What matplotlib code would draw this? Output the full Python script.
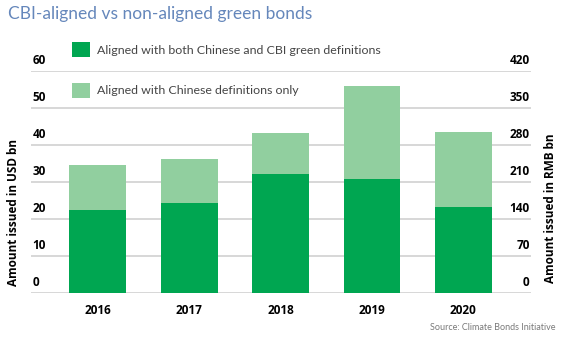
import matplotlib
matplotlib.use("Agg")
import matplotlib.pyplot as plt

# data (USD bn)
years = ["2016", "2017", "2018", "2019", "2020"]
both_aligned = [22.5, 24.5, 32.3, 30.9, 23.3]
chinese_only = [12.3, 11.9, 11.0, 25.1, 20.2]
usd_ticks = [0, 10, 20, 30, 40, 50, 60]
rmb_ticks = [0, 70, 140, 210, 280, 350, 420]

dark_green = "#00a651"
light_green = "#91cf9f"
bold_font = "Open Sans"
light_font = "Lato"

W, H = 566, 343
fig = plt.figure(figsize=(W / 100, H / 100), dpi=100)
ax = fig.add_axes([31 / W, 1 - 293.3 / H, 500 / W, 222 / H])

x = list(range(len(years)))
b1 = ax.bar(x, both_aligned, width=0.62, color=dark_green, linewidth=0, zorder=3)
b2 = ax.bar(x, chinese_only, bottom=both_aligned, width=0.62, color=light_green,
            linewidth=0, zorder=3)

ax.set_xlim(-0.731, 4.74)
ax.set_ylim(0, 60)
ax.set_yticks(usd_ticks)
ax.yaxis.grid(True, color="#d4d4d4", linewidth=1.3)
ax.set_axisbelow(True)
ax.tick_params(axis="y", length=0, labelleft=False)
ax.set_xticks(x)
ax.set_xticklabels(years, fontfamily=bold_font, fontweight="bold", fontsize=8.5)
ax.tick_params(axis="x", length=0, pad=8)
for s in ax.spines.values():
    s.set_visible(False)

# left tick labels sit above the gridlines, inside the plot
trans = ax.get_yaxis_transform()
for v in usd_ticks:
    ax.annotate(str(v), xy=(0, v), xycoords=trans, xytext=(1, 8), textcoords="offset points",
                ha="left", va="center", fontfamily=bold_font, fontweight="bold", fontsize=8.5)

# right axis in RMB
ax2 = ax.twinx()
ax2.set_ylim(0, 420)
ax2.set_yticks([])
for s in ax2.spines.values():
    s.set_visible(False)
trans2 = ax2.get_yaxis_transform()
for v in rmb_ticks:
    ax2.annotate(str(v), xy=(1, v), xycoords=trans2, xytext=(-1, 8), textcoords="offset points",
                 ha="right", va="center", fontfamily=bold_font, fontweight="bold", fontsize=8.5)

fig.text(13.5 / W, 1 - 212 / H, "Amount issued in USD bn", rotation=90, ha="center", va="center",
         fontfamily=bold_font, fontweight="bold", fontsize=8.5)
fig.text(551 / W, 1 - 208 / H, "Amount issued in RMB bn", rotation=90, ha="center", va="center",
         fontfamily=bold_font, fontweight="bold", fontsize=8.5)

fig.text(8 / W, 1 - 14 / H, "CBI-aligned vs non-aligned green bonds", ha="left", va="center",
         fontfamily=light_font, fontsize=12.5, color="#6587bb")

fig.text(555 / W, 1 - 327 / H, "Source: Climate Bonds Initiative", ha="right", va="center",
         fontfamily=light_font, fontsize=6.5, color="#7a7a7a")

leg = ax.legend([b1, b2], ["Aligned with both Chinese and CBI green definitions",
                           "Aligned with Chinese definitions only"],
                loc="upper left", bbox_to_anchor=(71.7 / W, 1 - 42.3 / H),
                bbox_transform=fig.transFigure, frameon=False, borderpad=0, borderaxespad=0,
                handlelength=1.5, handleheight=1.5, handletextpad=0.55, labelspacing=2.05,
                prop={"family": light_font, "size": 8.9})
for t in leg.get_texts():
    t.set_color("#454545")

fig.savefig("out.png", dpi=100)
